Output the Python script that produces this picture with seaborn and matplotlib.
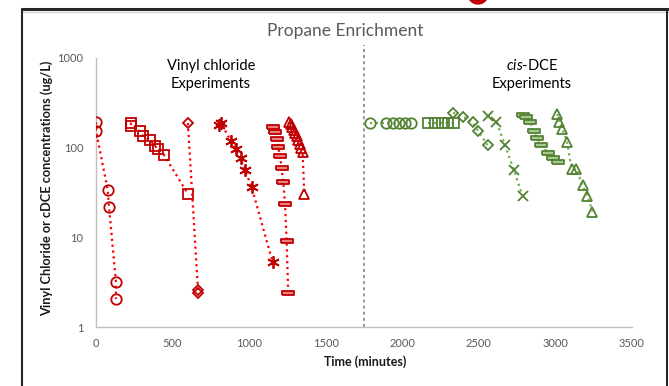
import numpy as np
import pandas as pd
import matplotlib
matplotlib.use("Agg")
import matplotlib.pyplot as plt
from matplotlib.lines import Line2D
from matplotlib.patches import Ellipse
import seaborn as sns

# ---------------- data (time in minutes, concentration in ug/L) ----------------
vc_circle_t = [0, 0, 76, 85, 130, 130]
vc_circle_c = [192, 155, 34, 22, 3.2, 2.05]

vc_square_t = [228, 228, 287, 307, 352, 385, 405, 444, 600]
vc_square_c = [190, 175, 153, 135, 122, 104, 97, 83, 30.5]

vc_diamond_t = [600, 666, 666]
vc_diamond_c = [188, 2.6, 2.4]

vc_star_t = [805, 815, 879, 914, 944, 973, 1016, 1153]
vc_star_c = [179, 190, 120, 97, 77, 56, 36.5, 5.3]

vc_dash_t = [1157, 1168, 1180, 1190, 1201, 1212, 1223, 1234, 1245, 1255]
vc_dash_c = [171, 150, 124, 101, 81, 60, 41, 23.8, 9.1, 2.4]

vc_tri_t = [1262, 1272, 1282, 1291, 1300, 1310, 1320, 1330, 1340, 1349, 1360]
vc_tri_c = [195, 182, 170, 158, 146, 134, 122, 111, 100, 90, 30.5]

dce_circle_t = [1788, 1893, 1941, 1980, 2017, 2054]
dce_circle_c = [190, 190, 190, 190, 190, 190]

dce_square_t = [2169, 2213, 2257, 2300, 2339]
dce_square_c = [190, 190, 190, 190, 190]

dce_diamond_t = [2332, 2398, 2459, 2493, 2557]
dce_diamond_c = [245, 222, 192, 155, 107]

dce_x_t = [2557, 2615, 2670, 2728, 2785]
dce_x_c = [227, 195, 107, 57, 29]

dce_dash_t = [2789, 2811, 2833, 2859, 2880, 2909, 2952, 2981, 3018]
dce_dash_c = [232, 218, 195, 155, 127, 107, 87, 77, 69]

dce_tri_t = [3013, 3024, 3044, 3076, 3105, 3137, 3177, 3209, 3242]
dce_tri_c = [238, 192, 162, 117, 58, 58, 38, 29, 19.4]

x_ticks = [0, 500, 1000, 1500, 2000, 2500, 3000, 3500]
y_ticks = [1, 10, 100, 1000]
y_tick_labels = ["1", "10", "100", "1000"]
divider_t = 1750

title = "Propane Enrichment"
x_label = "Time (minutes)"
y_label = "Vinyl Chloride or cDCE concentrations (ug/L)"

# ---------------- style ----------------
sns.set_theme(style="white")
plt.rcParams["font.family"] = ["Lato", "DejaVu Sans"]
plt.rcParams["mathtext.fontset"] = "custom"
plt.rcParams["mathtext.rm"] = "Lato"
plt.rcParams["mathtext.it"] = "Lato:italic"

RED_M = "#C00000"
RED_L = "#FF0000"
GRN_M = "#548235"
GRN_L = "#70AD47"
GRAY = "#595959"

dash_marker = [(-1, -0.25), (1, -0.25), (1, 0.25), (-1, 0.25), (-1, -0.25)]
star_marker = (6, 2, 0)

fig = plt.figure(figsize=(6.69, 3.86), dpi=100)
ax = fig.add_axes([96 / 669, 1 - 327 / 386, (632 - 96) / 669, (327 - 58) / 386])

series = [
    (vc_circle_t, vc_circle_c, "o", RED_M, RED_L, 7.5, "none"),
    (vc_square_t, vc_square_c, "s", RED_M, RED_L, 7.5, "none"),
    (vc_diamond_t, vc_diamond_c, "D", RED_M, RED_L, 5.5, "none"),
    (vc_star_t, vc_star_c, star_marker, RED_M, RED_L, 9, "none"),
    (vc_dash_t, vc_dash_c, dash_marker, RED_M, RED_L, 9, "#E88080"),
    (vc_tri_t, vc_tri_c, "^", RED_M, RED_L, 7.5, "none"),
    (dce_circle_t, dce_circle_c, "o", GRN_M, GRN_L, 7.5, "none"),
    (dce_square_t, dce_square_c, "s", GRN_M, GRN_L, 7.5, "none"),
    (dce_diamond_t, dce_diamond_c, "D", GRN_M, GRN_L, 5.5, "none"),
    (dce_x_t, dce_x_c, "x", GRN_M, GRN_L, 7.5, "none"),
    (dce_dash_t, dce_dash_c, dash_marker, GRN_M, GRN_L, 9, "#A5C98C"),
    (dce_tri_t, dce_tri_c, "^", GRN_M, GRN_L, 7.5, "none"),
]

for t, c, m, mc, lc, ms, fc in series:
    df = pd.DataFrame({"t": t, "c": c})
    sns.lineplot(data=df, x="t", y="c", ax=ax, sort=False, estimator=None,
                 color=lc, linestyle=":", linewidth=1.6,
                 marker=m, markersize=ms, markeredgecolor=mc,
                 markerfacecolor=fc, markeredgewidth=1.3, zorder=3)

ax.set_yscale("log")
ax.set_xlim(0, 3500)
ax.set_ylim(1, 1000)
ax.set_xticks(x_ticks)
ax.set_xticklabels([str(v) for v in x_ticks])
ax.set_yticks(y_ticks)
ax.set_yticklabels(y_tick_labels)
ax.yaxis.set_minor_locator(matplotlib.ticker.NullLocator())
ax.tick_params(axis="both", length=0, labelsize=8, labelcolor=GRAY)
ax.tick_params(axis="x", pad=8)
ax.tick_params(axis="y", pad=9)
ax.set_xlabel("")
ax.set_ylabel("")
for s in ["top", "right"]:
    ax.spines[s].set_visible(False)
for s in ["left", "bottom"]:
    ax.spines[s].set_color("#BFBFBF")
    ax.spines[s].set_linewidth(1.0)

# divider line between experiments
ax.plot([divider_t, divider_t], [1, 1400], color="#7F7F7F", linestyle=(0, (2, 2)),
        linewidth=1.1, clip_on=False, zorder=2)

# texts
fig.text(345 / 669, 1 - 31 / 386, title, ha="center", va="center", fontsize=12.5, color=GRAY)
fig.text(365 / 669, 1 - 362 / 386, x_label, ha="center", va="center", fontsize=9,
         fontweight="bold", color="#1a1a1a")
fig.text(47 / 669, 1 - 188 / 386, y_label, ha="center", va="center", rotation=90,
         fontsize=9.2, fontweight="bold", color="#1a1a1a")
fig.text(211 / 669, 1 - 66 / 386, "Vinyl chloride", ha="center", va="center", fontsize=10.5, color="black")
fig.text(211 / 669, 1 - 84 / 386, "Experiments", ha="center", va="center", fontsize=10.5, color="black")
fig.text(532 / 669, 1 - 66 / 386, r"$\it{cis}$-DCE", ha="center", va="center", fontsize=10.5, color="black")
fig.text(532 / 669, 1 - 84 / 386, "Experiments", ha="center", va="center", fontsize=10.5, color="black")

# slide frame decoration
fig.add_artist(Line2D([22 / 669, 668 / 669], [1 - 9 / 386, 1 - 9 / 386], transform=fig.transFigure,
                      color="#262626", linewidth=2.2))
fig.add_artist(Line2D([22 / 669, 668 / 669], [1 - 12 / 386, 1 - 12 / 386], transform=fig.transFigure,
                      color="#D0D0D0", linewidth=0.8))
fig.add_artist(Line2D([22 / 669, 22 / 669], [0, 1 - 9 / 386], transform=fig.transFigure,
                      color="#262626", linewidth=1.5))
fig.add_artist(Line2D([667 / 669, 667 / 669], [0, 1 - 9 / 386], transform=fig.transFigure,
                      color="#262626", linewidth=1.5))
fig.add_artist(Ellipse((478 / 669, 1 + 6 / 386), width=20 / 669, height=20 / 386,
                       transform=fig.transFigure, color="#C00000"))

fig.savefig("out.png", dpi=100)
